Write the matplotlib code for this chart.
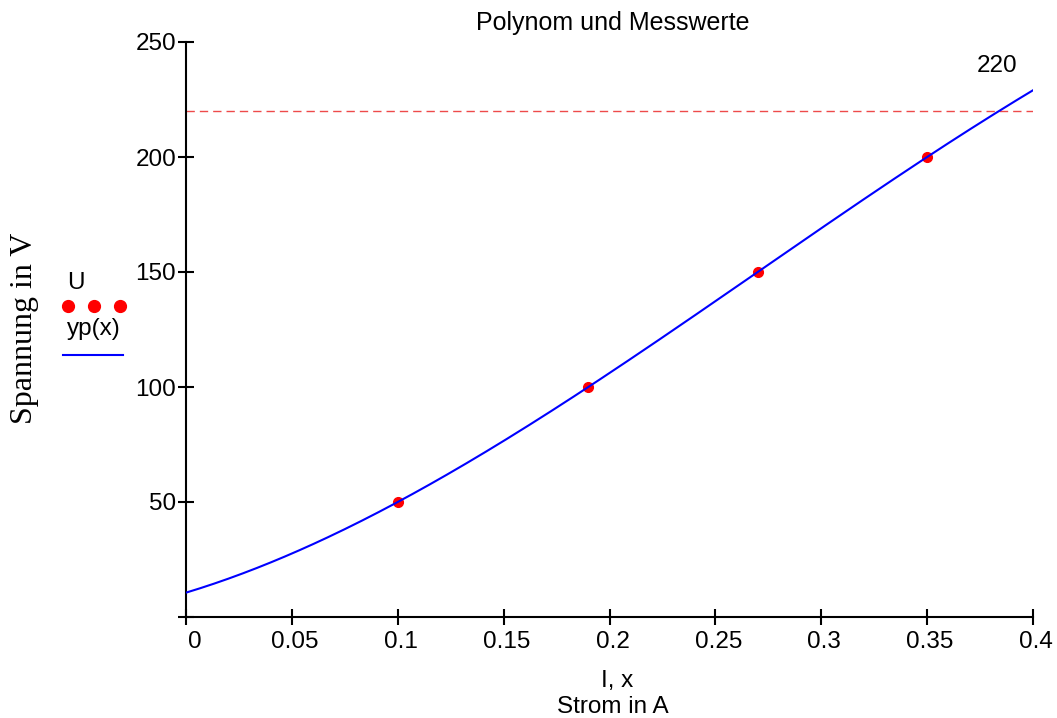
import numpy as np
import matplotlib.pyplot as plt
import matplotlib.transforms as mtransforms
from matplotlib.lines import Line2D

# measured values
I = [0.1, 0.19, 0.27, 0.35]     # Strom in A
U = [50, 100, 150, 200]         # Spannung in V
U_limit = 220

x_ticks = [0, 0.05, 0.1, 0.15, 0.2, 0.25, 0.3, 0.35, 0.4]
x_ticklabels = ['0', '0.05', '0.1', '0.15', '0.2', '0.25', '0.3', '0.35', '0.4']
y_ticks = [0, 50, 100, 150, 200, 250]
y_ticklabels = ['', '50', '100', '150', '200', '250']

# polynomial yp(x) through the measured points
coef = np.polyfit(I, U, 3)
x = np.linspace(0, 0.4, 300)
yp = np.polyval(coef, x)

plt.rcParams['font.family'] = ['Liberation Sans', 'DejaVu Sans']
fs = 17.5

W, H = 1057, 718
fig = plt.figure(figsize=(W / 100, H / 100), dpi=100)
ax = fig.add_axes([186 / W, 1 - 617 / H, (1033 - 186) / W, (617 - 42) / H])

ax.plot(x, yp, color='#0000ff', lw=1.5, zorder=3)
ax.plot(I, U, 'o', color='#ff0000', ms=7, zorder=2)
ax.axhline(U_limit, color='#ee4a4a', lw=1, dashes=(6, 3.6), zorder=1)
ax.text(0.383, 239.6, '220', ha='center', va='center', fontsize=fs)

ax.set_xlim(0, 0.4)
ax.set_ylim(0, 250)
ax.set_xticks(x_ticks)
ax.set_xticklabels(x_ticklabels)
ax.set_yticks(y_ticks)
ax.set_yticklabels(y_ticklabels)

for s in ['top', 'right']:
    ax.spines[s].set_visible(False)
for s in ['left', 'bottom']:
    ax.spines[s].set_linewidth(1.5)
ax.tick_params(axis='both', direction='inout', length=12.2, width=1.5, labelsize=fs)
ax.tick_params(axis='x', pad=4)
ax.tick_params(axis='y', pad=1)

# x tick labels sit slightly right of their ticks
for i, lab in enumerate(ax.get_xticklabels()):
    dx = 9 if i == 0 else 3
    lab.set_transform(lab.get_transform() +
                      mtransforms.ScaledTranslation(dx / 100, 0, fig.dpi_scale_trans))

# titles and labels
tf = fig.transFigure
fig.text(613 / W, 1 - 30 / H, 'Polynom und Messwerte', ha='center', va='baseline', fontsize=18)
fig.text(617 / W, 1 - 687 / H, 'I, x', ha='center', va='baseline', fontsize=fs)
fig.text(613 / W, 1 - 713 / H, 'Strom in A', ha='center', va='baseline', fontsize=fs)
fig.text(25 / W, 1 - 328 / H, 'Spannung in V', rotation=90, ha='center', va='center',
         fontsize=23, family='Liberation Serif')

# legend in Mathcad style (label above the sample)
fig.text(67 / W, 1 - 289 / H, 'U', ha='left', va='baseline', fontsize=fs)
fig.add_artist(Line2D(np.array([68, 94, 120]) / W, 1 - np.array([306, 306, 306]) / H,
                      ls='none', marker='o', ms=8.5, color='#ff0000', transform=tf))
fig.text(67 / W, 1 - 335 / H, 'yp(x)', ha='left', va='baseline', fontsize=fs)
fig.add_artist(Line2D([63 / W, 123 / W], [1 - 355 / H, 1 - 355 / H],
                      color='#0000ff', lw=1.5, transform=tf))

fig.savefig('out.png', dpi=100)
